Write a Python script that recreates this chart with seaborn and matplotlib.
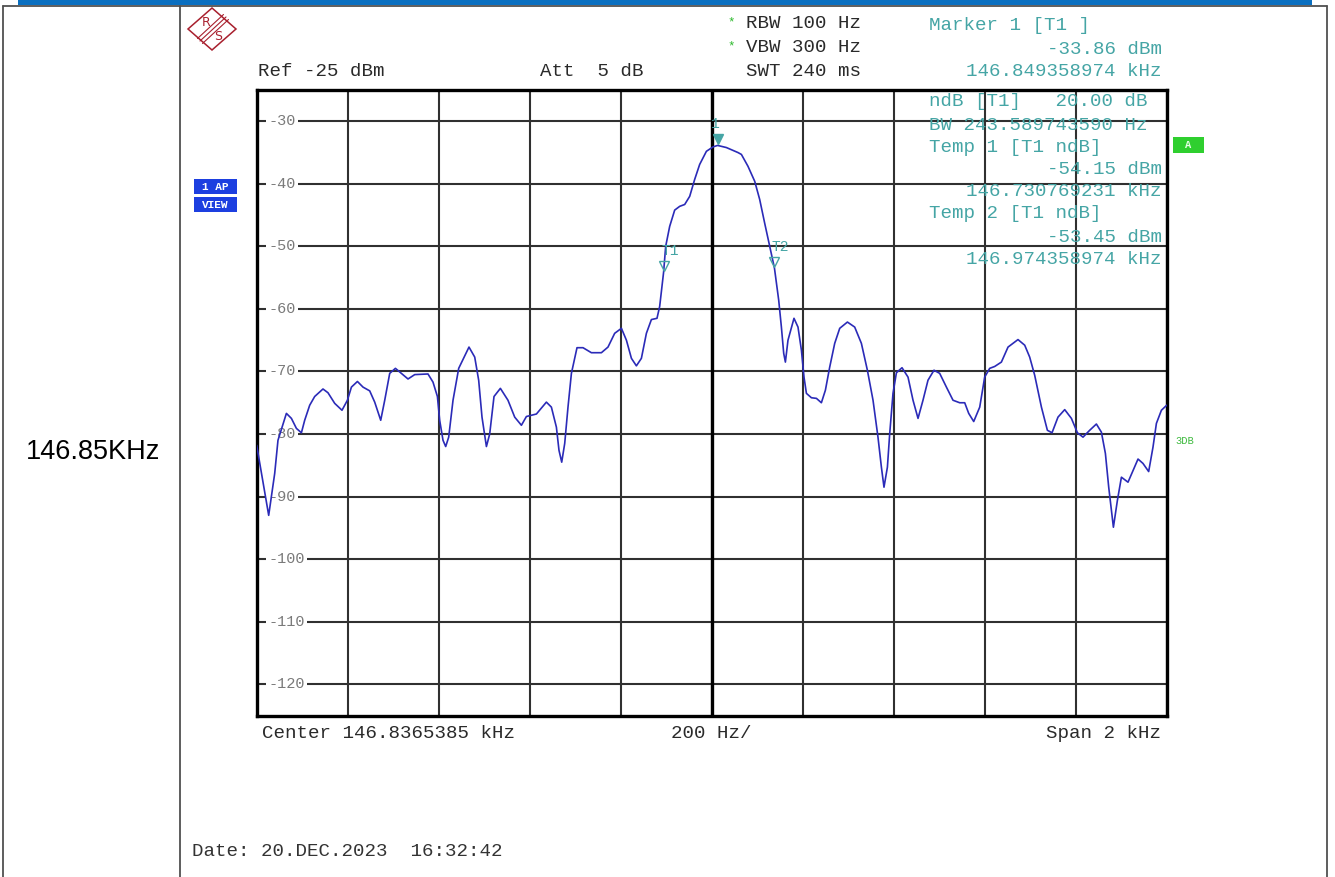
import numpy as np
import pandas as pd
import matplotlib
matplotlib.use("Agg")
import matplotlib.pyplot as plt
import matplotlib.transforms as mtransforms
from matplotlib.patches import Rectangle, Polygon
from matplotlib.lines import Line2D
import seaborn as sns

# ---------------- data ----------------
freq_khz = [
    145.8365, 145.8629, 145.8761, 145.8833, 145.9018, 145.9128, 145.9238, 145.9348,
    145.9420, 145.9530, 145.9640, 145.9822, 145.9932, 146.0080, 146.0240, 146.0359,
    146.0447, 146.0579, 146.0702, 146.0849, 146.0959, 146.1091, 146.1179, 146.1289,
    146.1414, 146.1546, 146.1691, 146.1838, 146.2130, 146.2240, 146.2337, 146.2387,
    146.2460, 146.2519, 146.2585, 146.2680, 146.2805, 146.3031, 146.3157, 146.3244,
    146.3317, 146.3414, 146.3486, 146.3581, 146.3721, 146.3888, 146.4036, 146.4183,
    146.4293, 146.4513, 146.4732, 146.4842, 146.4952, 146.5009, 146.5069, 146.5135,
    146.5207, 146.5282, 146.5405, 146.5537, 146.5721, 146.5941, 146.6086, 146.6233,
    146.6381, 146.6491, 146.6601, 146.6710, 146.6820, 146.6930, 146.7040, 146.7163,
    146.7222, 146.7308, 146.7354, 146.7442, 146.7552, 146.7662, 146.7772, 146.7882,
    146.7991, 146.8101, 146.8249, 146.8394, 146.8494, 146.8688, 146.8943, 146.9018,
    146.9163, 146.9311, 146.9420, 146.9530, 146.9640, 146.9744, 146.9838, 146.9897,
    146.9948, 146.9985, 147.0042, 147.0174, 147.0262, 147.0337, 147.0394, 147.0447,
    147.0557, 147.0667, 147.0776, 147.0864, 147.0959, 147.1069, 147.1179, 147.1348,
    147.1508, 147.1655, 147.1787, 147.1911, 147.2020, 147.2095, 147.2152, 147.2227,
    147.2277, 147.2350, 147.2425, 147.2548, 147.2680, 147.2790, 147.2900, 147.3009,
    147.3119, 147.3251, 147.3376, 147.3524, 147.3669, 147.3816, 147.3926, 147.4014,
    147.4124, 147.4256, 147.4365, 147.4475, 147.4585, 147.4732, 147.4878, 147.5097,
    147.5245, 147.5354, 147.5464, 147.5612, 147.5743, 147.5845, 147.5976, 147.6124,
    147.6271, 147.6403, 147.6526, 147.6673, 147.6820, 147.6930, 147.7018, 147.7091,
    147.7194, 147.7282, 147.7370, 147.7515, 147.7735, 147.7844, 147.7969, 147.8064,
    147.8139, 147.8249, 147.8365,
]
level_dbm = [
    -81.8, -93.0, -86.3, -81.0, -76.7, -77.5, -79.1, -79.8,
    -77.8, -75.4, -74.0, -72.8, -73.4, -75.1, -76.2, -74.6,
    -72.5, -71.6, -72.5, -73.1, -74.9, -77.8, -74.6, -70.3,
    -69.5, -70.3, -71.2, -70.5, -70.4, -71.7, -74.0, -77.8,
    -81.0, -82.0, -80.5, -74.6, -69.5, -66.1, -67.7, -71.4,
    -77.3, -82.0, -80.0, -74.0, -72.7, -74.6, -77.3, -78.6,
    -77.2, -76.8, -74.9, -75.7, -78.9, -82.6, -84.5, -81.5,
    -75.7, -70.3, -66.2, -66.2, -67.0, -67.0, -66.1, -63.9,
    -63.1, -65.0, -67.9, -69.1, -67.9, -63.9, -61.7, -61.5,
    -59.6, -54.15, -50.0, -46.8, -44.2, -43.6, -43.3, -42.0,
    -39.3, -36.9, -34.8, -34.1, -33.86, -34.2, -35.0, -35.3,
    -37.2, -39.6, -42.5, -46.3, -50.0, -53.45, -58.6, -62.9,
    -67.1, -68.5, -65.0, -61.5, -62.9, -66.6, -70.9, -73.5,
    -74.2, -74.3, -75.0, -73.0, -69.3, -65.5, -63.1, -62.1,
    -62.9, -65.5, -69.8, -74.6, -80.5, -85.3, -88.5, -85.3,
    -80.0, -73.5, -70.2, -69.4, -70.9, -74.6, -77.5, -74.6,
    -71.4, -69.8, -70.3, -72.5, -74.6, -75.0, -75.0, -76.7,
    -78.0, -75.7, -70.9, -69.5, -69.2, -68.5, -66.1, -64.9,
    -65.8, -67.7, -70.6, -75.7, -79.4, -79.8, -77.3, -76.1,
    -77.5, -79.8, -80.5, -79.4, -78.4, -79.7, -83.1, -88.5,
    -94.9, -90.6, -86.9, -87.7, -84.0, -84.7, -86.0, -82.1,
    -78.3, -76.2, -75.4,
]

center_khz = 146.8365385
span_khz = 2.0
ref_dbm = -25
range_db = 100
y_ticks = [-30, -40, -50, -60, -70, -80, -90, -100, -110, -120]
y_tick_labels = ["-30", "-40", "-50", "-60", "-70", "-80", "-90", "-100", "-110", "-120"]

marker_names = ["1", "T1", "T2"]
marker_freq = [146.849358974, 146.730769231, 146.974358974]
marker_level = [-33.86, -54.15, -53.45]

header_left = ["Ref -25 dBm", "Att  5 dB"]
header_mid = ["RBW 100 Hz", "VBW 300 Hz", "SWT 240 ms"]
marker_lines_left = ["Marker 1 [T1 ]", "ndB [T1]   20.00 dB", "BW 243.589743590 Hz",
                     "Temp 1 [T1 ndB]", "Temp 2 [T1 ndB]"]
marker_lines_right = ["-33.86 dBm", "146.849358974 kHz", "-54.15 dBm",
                      "146.730769231 kHz", "-53.45 dBm", "146.974358974 kHz"]
footer = ["Center 146.8365385 kHz", "200 Hz/", "Span 2 kHz"]
date_text = "Date: 20.DEC.2023  16:32:42"
cell_label = "146.85KHz"

# ---------------- styling ----------------
sns.set_theme(style="white")
plt.rcParams["font.family"] = ["Liberation Mono", "DejaVu Sans Mono"]

W, H = 1335, 877
fig = plt.figure(figsize=(W / 100, H / 100), dpi=100)
fig.patch.set_facecolor("white")

def fx(x):
    return x / W

def fy(y):
    return 1 - y / H

TEAL = "#45a5a5"
MONO = ["Liberation Mono", "DejaVu Sans Mono"]
FS = 13.8
DARK = "#2a2a2a"

# table frame and blue bar
fig.add_artist(Rectangle((fx(18), fy(5)), fx(1312) - fx(18), 5 / H,
                         transform=fig.transFigure, color="#0a6fc0", lw=0))
for (x0, y0, x1, y1) in [(3, 5.5, 1327, 5.5), (3, 5.5, 3, 877), (180, 5.5, 180, 877),
                         (1327, 5.5, 1327, 877)]:
    fig.add_artist(Line2D([fx(x0), fx(x1)], [fy(y0), fy(y1)], transform=fig.transFigure,
                          color="#505050", lw=1.3))

fig.text(fx(93), fy(452), cell_label, ha="center", va="center",
         family=["Liberation Sans", "DejaVu Sans"], fontsize=19.5, color="black")

# R&S logo
RED = "#a8202e"
cx, cy, hw, hh = 212, 29, 24, 21
fig.add_artist(Polygon([(fx(cx - hw), fy(cy)), (fx(cx), fy(cy - hh)), (fx(cx + hw), fy(cy)),
                        (fx(cx), fy(cy + hh))], closed=True, fill=False, ec=RED, lw=1.1,
                       transform=fig.transFigure))
for d in (-2.5, 0, 2.5):
    fig.add_artist(Line2D([fx(cx + 14 + d), fx(cx - 12 + d)], [fy(cy - 12 + d), fy(cy + 12 + d)],
                          transform=fig.transFigure, color=RED, lw=0.8))
fig.text(fx(cx - 6), fy(cy - 7), "R", color=RED, fontsize=9, ha="center", va="center",
         family=["DejaVu Sans"])
fig.text(fx(cx + 6), fy(cy + 7), "S", color=RED, fontsize=9, ha="center", va="center",
         family=["DejaVu Sans"])

# 1 AP / VIEW badges
BLUE = "#1d3fe0"
for (yt, lab) in [(179, "1 AP"), (197, "VIEW")]:
    fig.add_artist(Rectangle((fx(194), fy(yt + 15)), 43 / W, 15 / H, transform=fig.transFigure,
                             color=BLUE, lw=0))
    fig.text(fx(215.5), fy(yt + 7.5), lab, color="white", fontsize=8, ha="center", va="center",
             family=MONO, fontweight="bold")

# "A" badge and 3DB
fig.add_artist(Rectangle((fx(1173), fy(153)), 31 / W, 16 / H, transform=fig.transFigure,
                         color="#2fcf2f", lw=0))
fig.text(fx(1188.5), fy(145), "A", color="#e8ffe8", fontsize=7.5, ha="center", va="center",
         family=MONO, fontweight="bold")
fig.text(fx(1175), fy(441), "3DB", color="#3cb93c", fontsize=7.5, ha="left", va="center",
         family=MONO)

# header texts
fig.text(fx(258), fy(71), header_left[0], ha="left", va="center", fontsize=FS, color=DARK,
         family=MONO)
fig.text(fx(540), fy(71), header_left[1], ha="left", va="center", fontsize=FS, color=DARK,
         family=MONO)
for yy, s, star in [(24, header_mid[0], True), (48, header_mid[1], True), (71, header_mid[2], False)]:
    fig.text(fx(861), fy(yy), s, ha="right", va="center", fontsize=FS, color=DARK, family=MONO)
    if star:
        fig.text(fx(731), fy(yy - 2), "*", ha="center", va="center", fontsize=9,
                 color="#2ab82a", family=MONO)

fig.text(fx(929), fy(25), marker_lines_left[0], ha="left", va="center", fontsize=FS,
         color=TEAL, family=MONO)
fig.text(fx(1162), fy(49), marker_lines_right[0], ha="right", va="center", fontsize=FS,
         color=TEAL, family=MONO)
fig.text(fx(1162), fy(71), marker_lines_right[1], ha="right", va="center", fontsize=FS,
         color=TEAL, family=MONO)

# ---------------- main axes ----------------
ax = fig.add_axes([fx(256.7), fy(715.5), 910 / W, (715.5 - 90) / H])
df = pd.DataFrame({"freq_khz": freq_khz, "level_dbm": level_dbm})
sns.lineplot(data=df, x="freq_khz", y="level_dbm", ax=ax, color="#2b2bb8", lw=1.2,
             estimator=None, sort=False, zorder=4)

f0 = center_khz - span_khz / 2
ax.set_xlim(f0, f0 + span_khz)
ax.set_ylim(ref_dbm - range_db, ref_dbm)
ax.set_xticks([f0 + i * span_khz / 10 for i in range(11)])
ax.set_yticks(y_ticks)
ax.set_xticklabels([])
ax.set_yticklabels([])
ax.tick_params(length=0)
ax.set_xlabel("")
ax.set_ylabel("")
ax.set_axisbelow(True)
ax.grid(True, color="#303030", lw=1.5)
ax.axvline(center_khz, color="black", lw=2.4, zorder=1)
for sp in ax.spines.values():
    sp.set_linewidth(2.4)
    sp.set_color("black")

trans = mtransforms.blended_transform_factory(ax.transAxes, ax.transData)
for yv, lab in zip(y_ticks, y_tick_labels):
    ax.text(0.0125, yv, lab, transform=trans, ha="left", va="center", fontsize=11,
            color="#7a7a7a", family=MONO, zorder=3,
            bbox=dict(fc="white", ec="none", pad=1.5))

# markers
moff = mtransforms.offset_copy(ax.transData, fig=fig, x=0, y=6, units="dots")
label_dx = [-2, 7, 6]
for name, f, lv, dx in zip(marker_names, marker_freq, marker_level, label_dx):
    filled = name == "1"
    ax.plot([f], [lv], marker="v", ms=6.5, color=TEAL, mec=TEAL,
            mfc=TEAL if filled else "none", mew=1.0, transform=moff, zorder=5, ls="none")
    ax.annotate(name, (f, lv), xytext=(dx, 21), textcoords="offset pixels", ha="center",
                va="center", color=TEAL, fontsize=10.5, family=MONO, zorder=5)

# marker info block inside the plot
info = [(102, marker_lines_left[1], "l"), (125, marker_lines_left[2], "l"),
        (148, marker_lines_left[3], "l"), (170, marker_lines_right[2], "r"),
        (192, marker_lines_right[3], "r"), (214, marker_lines_left[4], "l"),
        (237, marker_lines_right[4], "r"), (259, marker_lines_right[5], "r")]
for yy, s, al in info:
    if al == "l":
        fig.text(fx(929), fy(yy), s, ha="left", va="center", fontsize=FS, color=TEAL,
                 family=MONO, zorder=6)
    else:
        fig.text(fx(1162), fy(yy), s, ha="right", va="center", fontsize=FS, color=TEAL,
                 family=MONO, zorder=6)

# footer
fig.text(fx(262), fy(733), footer[0], ha="left", va="center", fontsize=FS, color=DARK,
         family=MONO)
fig.text(fx(711), fy(733), footer[1], ha="center", va="center", fontsize=FS, color=DARK,
         family=MONO)
fig.text(fx(1161), fy(733), footer[2], ha="right", va="center", fontsize=FS, color=DARK,
         family=MONO)
fig.text(fx(192), fy(851), date_text, ha="left", va="center", fontsize=FS, color="#333",
         family=MONO)

fig.savefig("out.png", dpi=100, facecolor="white")
